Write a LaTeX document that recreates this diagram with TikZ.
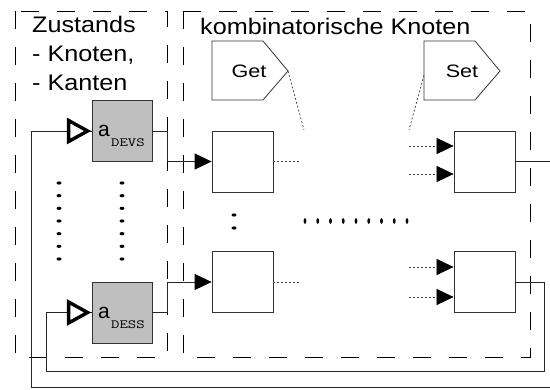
\documentclass[tikz,border=0pt]{standalone}
\usepackage{fontspec}
\setmainfont{Liberation Sans}
\newfontfamily\widefont[FakeStretch=1.12]{Liberation Sans}
\newfontfamily\gsfont[FakeStretch=1.2]{Liberation Sans}
\newfontfamily\subfont[FakeStretch=1.3]{Latin Modern Mono}
\usetikzlibrary{arrows.meta,calc}
\begin{document}
\begin{tikzpicture}[x=1pt,y=-1pt,
  frame/.style={draw=black, line width=0.8pt, dash pattern=on 18pt off 18pt},
  gbox/.style={draw=black!80, fill=black!25, line width=0.8pt, minimum width=60pt, minimum height=61pt, inner sep=0pt},
  cbox/.style={draw=black!80, fill=white, line width=0.8pt, minimum width=61pt, minimum height=61pt, inner sep=0pt},
  wire/.style={draw=black!85, line width=0.8pt},
  dotl/.style={draw=black!75, line width=0.7pt, dash pattern=on 2pt off 2pt},
  farr/.style={-{Triangle[length=17pt,width=16pt,color=black,fill=black]}},
  tri/.style={draw=black, fill=white, line width=3.4pt, line join=miter},
  sigtext/.style={inner sep=0pt, font=\gsfont\fontsize{18}{20}\selectfont},
  sigline/.style={draw=black!80, line width=0.8pt},
  big/.style={inner sep=0pt, font=\widefont\fontsize{22.5}{29}\selectfont},
  atext/.style={anchor=base west, inner sep=0pt, font=\fontsize{21}{22}\selectfont},
  subtext/.style={anchor=base west, inner sep=0pt, font=\subfont\fontsize{12.5}{13}\selectfont},
  adot/.style={fill=black}
]
\useasboundingbox (0,0) rectangle (550,390);
% frames
\draw[frame] (15,11) rectangle (167,357);
\draw[frame] (183,11) rectangle (530,357);
% titles
\node[big, align=left, anchor=north west] (title1) at (32,16) {Zustands\\- Knoten,\\- Kanten};
\node[big, anchor=base west] (title2) at (200,35) {kombinatorische Knoten};
% state nodes
\node[gbox] (devs) at (122,131) {};
\node[gbox] (dess) at (122,312.5) {};
\node[atext] (a1) at (98,137) {a};
\node[subtext] (s1) at (111,147) {DEVS};
\node[atext] (a2) at (98,318.5) {a};
\node[subtext] (s2) at (111,328.5) {DESS};
% combinatorial nodes
\node[cbox] (c1) at (242.5,161.5) {};
\node[cbox] (c2) at (242.5,282) {};
\node[cbox] (c3) at (484.5,161.5) {};
\node[cbox] (c4) at (484.5,282) {};
% get / set
\node[sigtext] (get) at (249,71) {Get};
\node[sigtext] (set) at (462,71) {Set};
\draw[sigline] ($(get)+(-37,-30)$) -- ($(get)+(14,-30)$) -- ($(get)+(39,0)$) coordinate (gettip)
  -- ($(get)+(14,29)$) -- ($(get)+(-37,29)$) -- cycle;
\draw[sigline] ($(set)+(-38,-30)$) -- ($(set)+(13,-30)$) -- ($(set)+(38,0)$)
  -- ($(set)+(13,29)$) -- ($(set)+(-38,29)$) -- cycle;
% free ends
\coordinate (g1) at (304,130);
\coordinate (st1) at (409,130);
\coordinate (st0) at (424,75);
\coordinate (o1) at (301,161.5);
\coordinate (o2) at (301,282);
\coordinate (i1) at (409,146);
\coordinate (i2) at (409,174);
\coordinate (i3) at (409,267);
\coordinate (i4) at (409,297);
\coordinate (outA) at (550,161.5);
\coordinate (outB) at (550,387);
\coordinate (j1) at (167,131);
\coordinate (j2) at (167,312.5);
% dotted
\draw[dotl] (gettip) -- (g1);
\draw[dotl] (st0) -- (st1);
\draw[dotl] (c1.east) -- (o1);
\draw[dotl] (c2.east) -- (o2);
\draw[dotl, farr] (i1) -- (i1 -| c3.west);
\draw[dotl, farr] (i2) -- (i2 -| c3.west);
\draw[dotl, farr] (i3) -- (i3 -| c4.west);
\draw[dotl, farr] (i4) -- (i4 -| c4.west);
% wires
\draw[wire, farr] (devs.east) -- (j1) |- (c1.west);
\draw[wire, farr] (dess.east) -- (j2) |- (c2.west);
\draw[wire] (c3.east) -- (outA);
\draw[wire] (outB) -| (31,131) -- (devs.west);
\draw[wire] (c4.east) -| (544,371) -| (46,312.5) -- (dess.west);
% open triangles at the state inputs
\draw[tri] ($(devs.west)+(-4,0)$) -- ++(-19,-10.5) -- ++(0,21) -- cycle;
\draw[tri] ($(dess.west)+(-4,0)$) -- ++(-19,-10.5) -- ++(0,21) -- cycle;
% ellipsis dots
\foreach \yy in {183,195.7,208.3,221,233.7,246.3,259} {
  \fill[adot] (59,\yy) ellipse (2.5pt and 1.6pt);
  \fill[adot] (122,\yy) ellipse (2.5pt and 1.6pt);
}
\fill[adot] (234,215) ellipse (2.5pt and 1.6pt);
\fill[adot] (234,228) ellipse (2.5pt and 1.6pt);
\foreach \k in {0,...,8} {
  \fill[adot] (305+12.75*\k,221) ellipse (1.4pt and 2.8pt);
}
\end{tikzpicture}
\end{document}
